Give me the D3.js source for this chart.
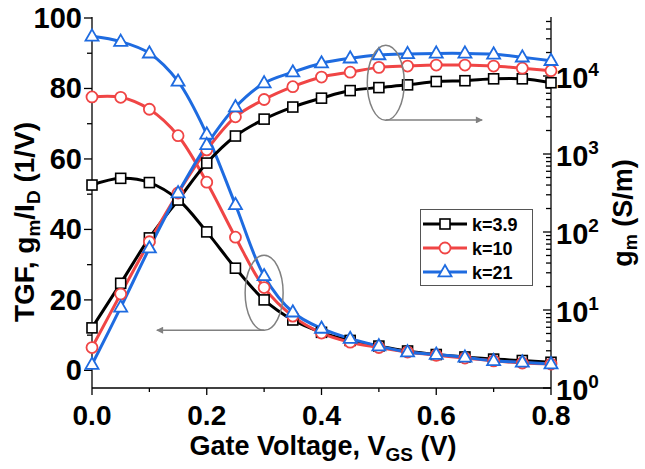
<!DOCTYPE html>
<html>
<head>
<meta charset="utf-8">
<script src="https://cdn.jsdelivr.net/npm/d3@7"></script>
<style>
  body { margin: 0; background: #fff; }
  svg { display: block; font-family: "Liberation Sans", Arial, sans-serif; font-weight: bold; }
</style>
</head>
<body>
<div id="chart"></div>
<script>
'use strict';

/* Data */
const vgs = [0, 0.05, 0.1, 0.15, 0.2, 0.25, 0.3, 0.35, 0.4, 0.45, 0.5, 0.55, 0.6, 0.65, 0.7, 0.75, 0.8];
const seriesNames = ['k=3.9', 'k=10', 'k=21'];
const seriesColors = ['#000000', '#F04545', '#1E6BE0'];
const seriesMarkers = ['square', 'circle', 'triangle'];

// TGF = gm/ID (1/V), left axis
const tgf39 = [52.6, 54.5, 53.3, 48.5, 39.3, 29.0, 20.0, 14.3, 10.8, 8.5, 6.9, 5.5, 4.5, 3.8, 3.2, 2.8, 2.3];
const tgf10 = [77.6, 77.5, 74.1, 66.6, 53.4, 37.8, 23.5, 15.4, 10.6, 8.0, 6.5, 5.2, 4.3, 3.5, 2.7, 2.1, 1.8];
const tgf21 = [94.8, 93.3, 90.0, 82.0, 67.0, 47.0, 26.8, 16.5, 11.9, 9.0, 6.9, 5.2, 4.5, 3.7, 2.7, 2.3, 1.8];

// gm (S/m), right log axis
const gm39 = [5.9, 22, 84, 257, 765, 1700, 2800, 4000, 5200, 6500, 7100, 7700, 8500, 8700, 9200, 9200, 8200];
const gm10 = [3.3, 16, 75, 316, 1130, 3000, 5000, 7300, 9700, 11200, 12900, 13400, 13800, 13800, 13400, 12600, 11700];
const gm21 = [2.0, 10.8, 62, 316, 1310, 4000, 8100, 11200, 14600, 16900, 18600, 19200, 19500, 19500, 19000, 17400, 15700];

const tgfSeries = [tgf39, tgf10, tgf21];
const gmSeries = [gm39, gm10, gm21];

const xTicks = [0, 0.2, 0.4, 0.6, 0.8];
const yLeftTicks = [0, 20, 40, 60, 80, 100];
const yRightTicks = [1, 10, 100, 1000, 10000];

// annotation ellipses: [x, y] in data units (left axis / right axis)
const ellipseLeft = [0.3, 22];
const arrowLeft = [[0.3, 11.4], [0.113, 11.4]];
const ellipseRight = [0.512, 8200];
const arrowRight = [[0.512, 2730], [0.68, 2730]];

/* Layout */
const W = 645, H = 469;
const X0 = 92, X1 = 551, YTOP = 18, YBOT = 388;

const svg = d3.select('#chart').append('svg').attr('width', W).attr('height', H);

const x = d3.scaleLinear().domain([0, 0.8]).range([X0, X1]);
const yL = d3.scaleLinear().domain([-5, 100]).range([YBOT, YTOP]);
const yR = d3.scaleLog().domain([1, Math.pow(10, (YBOT - YTOP) / 78)]).range([YBOT, YTOP]);

/* Axes */
const ax = svg.append('g').attr('stroke', '#000').attr('stroke-width', 1.3).attr('fill', 'none');
ax.append('line').attr('x1', X0).attr('x2', X0).attr('y1', YTOP - 1).attr('y2', YBOT);
ax.append('line').attr('x1', X1).attr('x2', X1).attr('y1', YTOP - 1).attr('y2', YBOT);
ax.append('line').attr('x1', X0).attr('x2', X1).attr('y1', YBOT).attr('y2', YBOT);

// bottom ticks (outward)
d3.range(0, 0.801, 0.1).forEach((v, i) => {
  const len = i % 2 === 0 ? 7 : 4;
  ax.append('line').attr('x1', x(v)).attr('x2', x(v)).attr('y1', YBOT).attr('y2', YBOT + len);
});
// left ticks (outward)
d3.range(0, 100.1, 10).forEach((v, i) => {
  const len = i % 2 === 0 ? 8 : 5;
  ax.append('line').attr('x1', X0 - len).attr('x2', X0).attr('y1', yL(v)).attr('y2', yL(v));
});
// right ticks (inward, log)
const rMax = yR.domain()[1];
for (let dec = 1; dec <= rMax; dec *= 10) {
  for (let m = 1; m <= 9; m++) {
    const v = dec * m;
    if (v > rMax) break;
    const len = m === 1 ? 8 : 5;
    ax.append('line').attr('x1', X1 - len).attr('x2', X1).attr('y1', yR(v)).attr('y2', yR(v));
  }
}

// tick labels
svg.append('g').selectAll('text').data(xTicks).join('text')
  .attr('x', d => x(d)).attr('y', 425).attr('text-anchor', 'middle')
  .attr('font-size', 28).text(d => d.toFixed(1));

svg.append('g').selectAll('text').data(yLeftTicks).join('text')
  .attr('x', 82).attr('y', d => yL(d) + 10).attr('text-anchor', 'end')
  .attr('font-size', 29).text(d => d);

const rl = svg.append('g').selectAll('text').data(yRightTicks).join('text')
  .attr('x', 556).attr('y', d => yR(d) + 12).attr('font-size', 29);
rl.append('tspan').text('10');
rl.append('tspan').attr('font-size', 19).attr('dy', -12).text(d => Math.round(Math.log10(d)));

/* Axis titles */
const xt = svg.append('text').attr('x', 323).attr('y', 455).attr('text-anchor', 'middle').attr('font-size', 27);
xt.append('tspan').text('Gate Voltage, V');
xt.append('tspan').attr('font-size', 19).attr('dy', 6).text('GS');
xt.append('tspan').attr('dy', -6).text(' (V)');

const lt = svg.append('text').attr('transform', 'translate(34,222) rotate(-90)').attr('text-anchor', 'middle').attr('font-size', 28);
lt.append('tspan').text('TGF, g');
lt.append('tspan').attr('font-size', 19).attr('dy', 6).text('m');
lt.append('tspan').attr('dy', -6).text('/I');
lt.append('tspan').attr('font-size', 19).attr('dy', 6).text('D');
lt.append('tspan').attr('dy', -6).text(' (1/V)');

const rt = svg.append('text').attr('transform', 'translate(632,213) rotate(-90)').attr('text-anchor', 'middle').attr('font-size', 27);
rt.append('tspan').text('g');
rt.append('tspan').attr('font-size', 18).attr('dy', 5).text('m');
rt.append('tspan').attr('dy', -5).text(' (S/m)');

/* Markers */
function drawMarker(g, type, cx, cy, color) {
  if (type === 'square') {
    g.append('rect').attr('x', cx - 5).attr('y', cy - 5).attr('width', 10).attr('height', 10)
      .attr('fill', '#fff').attr('stroke', color).attr('stroke-width', 1.6);
  } else if (type === 'circle') {
    g.append('circle').attr('cx', cx).attr('cy', cy).attr('r', 5.5)
      .attr('fill', '#fff').attr('stroke', color).attr('stroke-width', 1.8);
  } else {
    const s = 13, h = s * 0.866;
    g.append('path')
      .attr('d', `M${cx},${cy - h * 0.62}L${cx + s / 2},${cy + h * 0.38}L${cx - s / 2},${cy + h * 0.38}Z`)
      .attr('fill', '#fff').attr('stroke', color).attr('stroke-width', 1.8);
  }
}

/* Series */
const plot = svg.append('g');
function drawSeries(values, yScale, i) {
  const line = d3.line().x((d, j) => x(vgs[j])).y(d => yScale(d)).curve(d3.curveCatmullRom);
  plot.append('path').datum(values).attr('d', line)
    .attr('fill', 'none').attr('stroke', seriesColors[i]).attr('stroke-width', 3);
}
tgfSeries.forEach((s, i) => drawSeries(s, yL, i));
gmSeries.forEach((s, i) => drawSeries(s, yR, i));
const mk = svg.append('g');
[0, 1, 2].forEach(i => {
  tgfSeries[i].forEach((v, j) => drawMarker(mk, seriesMarkers[i], x(vgs[j]), yL(v), seriesColors[i]));
  gmSeries[i].forEach((v, j) => drawMarker(mk, seriesMarkers[i], x(vgs[j]), yR(v), seriesColors[i]));
});

/* Annotations */
const ann = svg.append('g').attr('stroke', '#808080').attr('stroke-width', 1.5).attr('fill', 'none');
svg.append('defs').append('marker').attr('id', 'ah').attr('viewBox', '0 0 10 10')
  .attr('refX', 9).attr('refY', 5).attr('markerWidth', 10).attr('markerHeight', 7)
  .attr('markerUnits', 'userSpaceOnUse').attr('orient', 'auto')
  .append('path').attr('d', 'M0,0L10,5L0,10Z').attr('fill', '#808080');

ann.append('ellipse').attr('cx', x(ellipseLeft[0])).attr('cy', yL(ellipseLeft[1])).attr('rx', 19).attr('ry', 37.5);
ann.append('line').attr('x1', x(arrowLeft[0][0])).attr('y1', yL(arrowLeft[0][1]))
  .attr('x2', x(arrowLeft[1][0])).attr('y2', yL(arrowLeft[1][1])).attr('marker-end', 'url(#ah)');
ann.append('ellipse').attr('cx', x(ellipseRight[0])).attr('cy', yR(ellipseRight[1])).attr('rx', 18.5).attr('ry', 37.5);
ann.append('line').attr('x1', x(arrowRight[0][0])).attr('y1', yR(arrowRight[0][1]))
  .attr('x2', x(arrowRight[1][0])).attr('y2', yR(arrowRight[1][1])).attr('marker-end', 'url(#ah)');

/* Legend */
const lg = svg.append('g');
lg.append('rect').attr('x', 420.5).attr('y', 209.5).attr('width', 112).attr('height', 76)
  .attr('fill', '#fff').attr('stroke', '#555').attr('stroke-width', 1);
seriesNames.forEach((name, i) => {
  const cy = 224 + i * 24;
  lg.append('line').attr('x1', 423).attr('x2', 467).attr('y1', cy).attr('y2', cy)
    .attr('stroke', seriesColors[i]).attr('stroke-width', 3);
  drawMarker(lg, seriesMarkers[i], 445, cy, seriesColors[i]);
  lg.append('text').attr('x', 472).attr('y', cy + 7).attr('font-size', 18).text(name);
});
</script>
</body>
</html>
